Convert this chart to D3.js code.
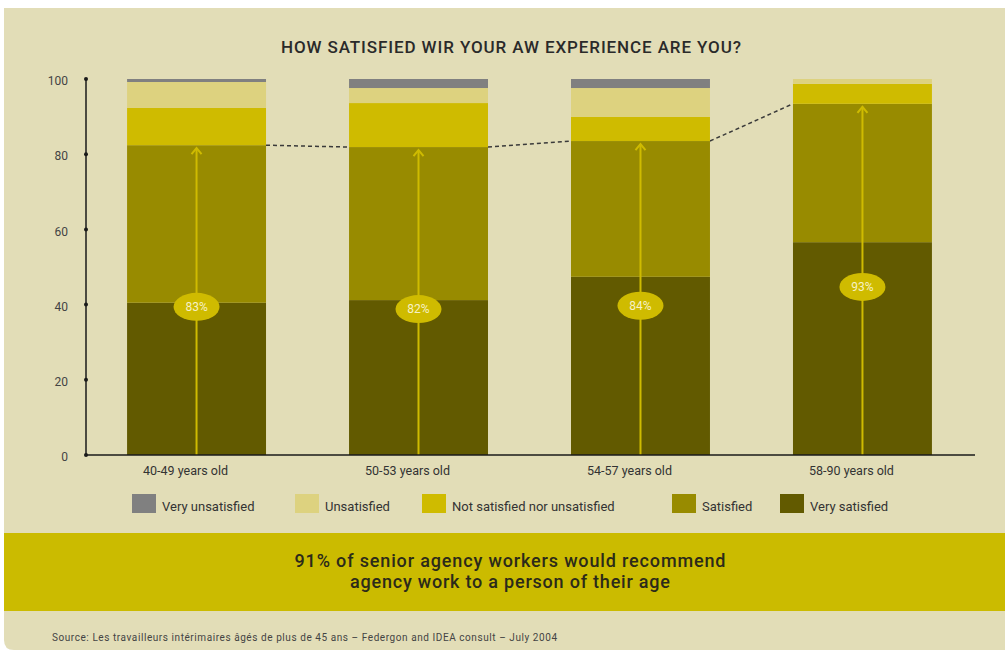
<!DOCTYPE html>
<html><head><meta charset="utf-8">
<script src="https://cdn.jsdelivr.net/npm/d3@7"></script>
<style>html,body{margin:0;padding:0;background:#fff;}svg{display:block;font-family:Roboto,"DejaVu Sans",sans-serif;}</style>
</head><body>
<svg id="c" width="1005" height="652"></svg>
<script>
const categories = ["40-49 years old","50-53 years old","54-57 years old","58-90 years old"];
const seriesNames = ["Very satisfied","Satisfied","Not satisfied nor unsatisfied","Unsatisfied","Very unsatisfied"];
const verySatisfied = [40.5, 41.2, 47.4, 56.6];
const satisfied = [41.9, 40.7, 36.1, 36.8];
const neutral = [9.9, 11.7, 6.4, 5.3];
const unsatisfied = [6.9, 4.0, 7.7, 1.3];
const veryUnsatisfied = [0.8, 2.4, 2.4, 0.0];
const recommendLabels = ["83%","82%","84%","93%"];
const labelPos = [39.4, 38.8, 39.7, 44.7];
const yTicks = [0,20,40,60,80,100];
const legendOrder = ["Very unsatisfied","Unsatisfied","Not satisfied nor unsatisfied","Satisfied","Very satisfied"];
const legendX = [132,295,422,672,780];

const colors = {"Very unsatisfied":"#808080","Unsatisfied":"#ddd27f","Not satisfied nor unsatisfied":"#cfbb00","Satisfied":"#988b00","Very satisfied":"#625a00"};
const seriesVals = [verySatisfied, satisfied, neutral, unsatisfied, veryUnsatisfied];

const svg = d3.select("#c");
// panel
svg.append("path").attr("d","M4,8 H1005 V650 H14 Q4,650 4,640 Z").attr("fill","#e2ddb7");
svg.append("rect").attr("x",4).attr("y",533).attr("width",1001).attr("height",78).attr("fill","#cbbb00");

const x = d3.scaleBand().domain(categories).range([86,973]).paddingInner(0.374).paddingOuter(0.185);
const y = d3.scaleLinear().domain([0,100]).range([455,79]);

svg.append("text").attr("x",511).attr("y",53).attr("text-anchor","middle")
  .attr("font-size",17).attr("font-weight",500).attr("fill","#2a2a2a")
  .attr("textLength",460).attr("lengthAdjust","spacing")
  .text("HOW SATISFIED WIR YOUR AW EXPERIENCE ARE YOU?");

// stacked data
const rows = categories.map((c,i)=>{const o={cat:c}; seriesNames.forEach((s,j)=>o[s]=seriesVals[j][i]); return o;});
const stack = d3.stack().keys(seriesNames)(rows);

// dashed line between bars at top of satisfied
const satTop = stack[1];
const segs = [];
for(let i=0;i<categories.length-1;i++){
  segs.push([[x(categories[i])+x.bandwidth(), y(satTop[i][1])],[x(categories[i+1]), y(satTop[i+1][1])]]);
}
svg.append("g").selectAll("path").data(segs).join("path")
  .attr("d",d=>d3.line()(d)).attr("stroke","#3a3a3a").attr("stroke-width",1.5)
  .attr("stroke-dasharray","4,3").attr("fill","none");

svg.append("g").selectAll("g").data(stack).join("g").attr("fill",d=>colors[d.key])
  .selectAll("rect").data(d=>d).join("rect")
  .attr("x",d=>x(d.data.cat)).attr("width",x.bandwidth())
  .attr("y",d=>y(d[1])).attr("height",d=>y(d[0])-y(d[1]));

// arrows
const ag = svg.append("g").attr("stroke","#cfbb00").attr("stroke-width",2).attr("fill","none");
categories.forEach((c,i)=>{
  const cx = x(c)+x.bandwidth()/2;
  const tip = y(satTop[i][1])+3;
  ag.append("line").attr("x1",cx).attr("x2",cx).attr("y1",y(0)).attr("y2",tip);
  ag.append("path").attr("d",`M${cx-5},${tip+6} L${cx},${tip} L${cx+5},${tip+6}`);
});

// labels
const lg = svg.append("g");
categories.forEach((c,i)=>{
  const cx = x(c)+x.bandwidth()/2, cy = y(labelPos[i]);
  lg.append("ellipse").attr("cx",cx).attr("cy",cy).attr("rx",23).attr("ry",14).attr("fill","#cfbb00");
  lg.append("text").attr("x",cx).attr("y",cy).attr("dy","0.36em").attr("text-anchor","middle")
    .attr("font-size",12).attr("fill","#f6f1c6").text(recommendLabels[i]);
});

// axes
const yAxis = svg.append("g");
yAxis.append("line").attr("x1",86).attr("x2",86).attr("y1",y(100)).attr("y2",y(0)).attr("stroke","#1a1a1a").attr("stroke-width",1.5);
yAxis.selectAll("circle").data(yTicks).join("circle").attr("cx",86).attr("cy",d=>y(d)).attr("r",2).attr("fill","#1a1a1a");
yAxis.selectAll("text").data(yTicks).join("text").attr("x",68).attr("y",d=>y(d)+2).attr("dy","0.35em")
  .attr("text-anchor","end").attr("font-size",12).attr("fill","#444").text(d=>d);
svg.append("line").attr("x1",86).attr("x2",975).attr("y1",y(0)).attr("y2",y(0)).attr("stroke","#1a1a1a").attr("stroke-width",1.5);
svg.append("g").selectAll("text").data(categories).join("text")
  .attr("x",d=>x(d)+x.bandwidth()/2-11).attr("y",475).attr("text-anchor","middle")
  .attr("font-size",12.5).attr("fill","#333").text(d=>d);

// legend
const leg = svg.append("g");
legendOrder.forEach((s,i)=>{
  leg.append("rect").attr("x",legendX[i]).attr("y",494).attr("width",24).attr("height",19).attr("fill",colors[s]);
  leg.append("text").attr("x",legendX[i]+30).attr("y",511).attr("font-size",13).attr("fill","#333").text(s);
});

svg.append("text").attr("x",510).attr("y",567).attr("text-anchor","middle").attr("font-size",18).attr("font-weight",500).attr("fill","#2b2a1a")
  .attr("textLength",431).attr("lengthAdjust","spacing")
  .text("91% of senior agency workers would recommend");
svg.append("text").attr("x",510).attr("y",588).attr("text-anchor","middle").attr("font-size",18).attr("font-weight",500).attr("fill","#2b2a1a")
  .attr("textLength",320).attr("lengthAdjust","spacing")
  .text("agency work to a person of their age");
svg.append("text").attr("x",52).attr("y",641).attr("font-size",10).attr("fill","#444")
  .attr("textLength",505).attr("lengthAdjust","spacing")
  .text("Source: Les travailleurs intérimaires âgés de plus de 45 ans – Federgon and IDEA consult – July 2004");
</script>
</body></html>
